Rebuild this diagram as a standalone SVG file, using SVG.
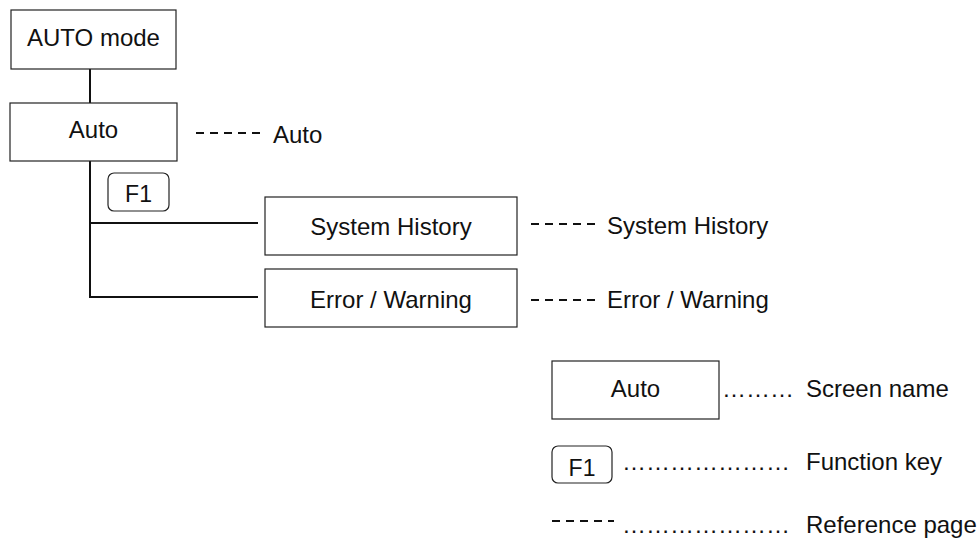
<svg xmlns="http://www.w3.org/2000/svg" width="980" height="547" viewBox="0 0 980 547">
<style>
text{font-family:"Liberation Sans",Arial,sans-serif;font-size:24px;fill:#111}
.c{text-anchor:middle}
.k{font-size:23px}
.box{fill:#fff;stroke:#222;stroke-width:1.2}
.key{fill:#fff;stroke:#222;stroke-width:1.2}
.conn{stroke:#111;stroke-width:2;fill:none}
.dash{stroke:#111;stroke-width:2;stroke-dasharray:8 6;fill:none}
</style>
<rect width="980" height="547" fill="#fff"/>
<g id="connectors">
<line class="conn" x1="90" y1="69" x2="90" y2="103"/>
<polyline class="conn" points="90,161 90,297 258,297"/>
<line class="conn" x1="90" y1="223" x2="258" y2="223"/>
</g>
<g id="node-auto-mode">
<rect class="box" x="11" y="10" width="165" height="59"/>
<text class="c" x="93.5" y="46">AUTO mode</text>
</g>
<g id="node-auto">
<rect class="box" x="10" y="103" width="167" height="58"/>
<text class="c" x="93.5" y="138">Auto</text>
<line class="dash" x1="196" y1="133" x2="262" y2="133"/>
<text x="273" y="143">Auto</text>
</g>
<g id="key-f1">
<rect class="key" x="108" y="173" width="61" height="38" rx="6"/>
<text class="c k" x="138.5" y="202">F1</text>
</g>
<g id="node-system-history">
<rect class="box" x="265" y="197" width="252" height="58"/>
<text class="c" x="391" y="235">System History</text>
<line class="dash" x1="531" y1="224" x2="597" y2="224"/>
<text x="607" y="234">System History</text>
</g>
<g id="node-error-warning">
<rect class="box" x="265" y="269" width="252" height="58"/>
<text class="c" x="391" y="308">Error / Warning</text>
<line class="dash" x1="531" y1="300" x2="597" y2="300"/>
<text x="607" y="308">Error / Warning</text>
</g>
<g id="legend">
<g id="legend-screen">
<rect class="box" x="552" y="361" width="167" height="58"/>
<text class="c" x="635.5" y="397">Auto</text>
<text x="722" y="397">&#8230;&#8230;&#8230;</text>
<text x="806" y="397">Screen name</text>
</g>
<g id="legend-key">
<rect class="key" x="552" y="446" width="60" height="37" rx="6"/>
<text class="c k" x="582" y="476">F1</text>
<text x="622" y="470">&#8230;&#8230;&#8230;&#8230;&#8230;&#8230;&#8230;</text>
<text x="806" y="470">Function key</text>
</g>
<g id="legend-ref">
<line class="dash" x1="552" y1="521" x2="614" y2="521"/>
<text x="622" y="533">&#8230;&#8230;&#8230;&#8230;&#8230;&#8230;&#8230;</text>
<text x="806" y="533">Reference page</text>
</g>
</g>
</svg>
